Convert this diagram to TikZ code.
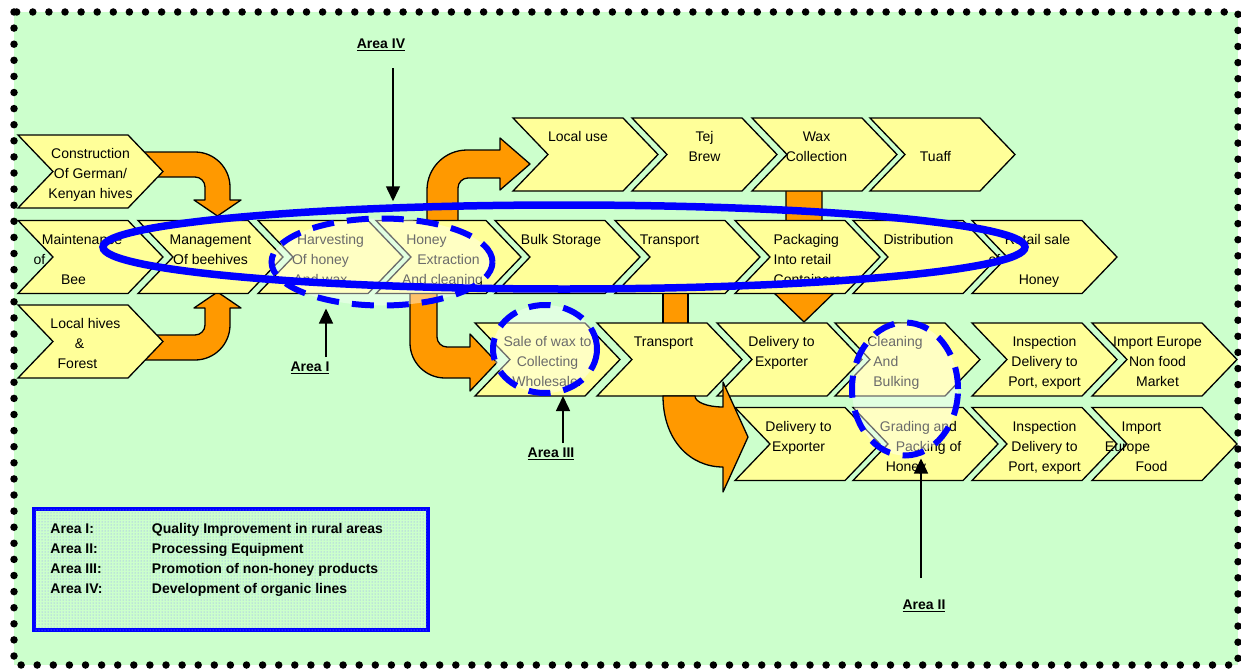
\documentclass[tikz,border=0pt]{standalone}
\usepackage{fontspec}
\setmainfont{Liberation Sans}
\usetikzlibrary{arrows.meta,positioning,shapes.symbols,shapes.geometric,patterns}
\definecolor{bggreen}{HTML}{CCFFCC}
\definecolor{chevyellow}{HTML}{FFFF99}
\definecolor{honeyorange}{HTML}{FF9900}
\definecolor{areablue}{HTML}{0000FF}
\newcommand{\areaunder}[1]{\setbox0=\hbox{#1}\rlap{\rule[-3pt]{\wd0}{1.6pt}}\box0}

\begin{document}
\begin{tikzpicture}[
  x=1pt,y=-1pt,
  chev/.style={
    signal,signal from=west,signal to=east,signal pointer angle=92.4,
    draw,line width=1.3pt,fill=chevyellow,
    minimum width=145pt,minimum height=73pt,inner sep=0pt
  },
  chevtext/.style={
    font=\fontsize{14}{20}\selectfont,align=center,inner sep=0pt,yshift=-3pt
  },
  blockarrow/.style={draw,line width=1.3pt,fill=honeyorange,line join=round},
  areaoval/.style={
    ellipse,draw=areablue,line width=6pt,dash pattern=on 22pt off 13pt,
    fill=white,fill opacity=.42,inner sep=0pt
  },
  arealabel/.style={font=\fontsize{14}{16}\selectfont\bfseries,inner sep=1pt},
  pointer/.style={-{Triangle[width=14pt,length=15pt]},line width=1.5pt}
]
\useasboundingbox (0,0) rectangle (1241,669);

% ---- dotted frame ----
\fill[bggreen] (14,12) rectangle (1238,665);
\draw[line width=7.5pt,dash pattern=on 0pt off 16.1pt,line cap=round] (14,12) rectangle (1238,665);

% ---- orange flow arrows, behind the chevrons ----
\draw[blockarrow] (135,152) -- (195,152) .. controls (214.3,152) and (230,167.7) .. (230,187)
  -- (230,200) -- (241,200) -- (217.5,216) -- (194,200) -- (205,200) -- (205,187)
  .. controls (205,181.5) and (200.5,177) .. (195,177) -- (135,177) -- cycle;
\draw[blockarrow] (135,360) -- (195,360) .. controls (214.3,360) and (230,344.3) .. (230,325)
  -- (230,308) -- (241,308) -- (217.5,292) -- (194,308) -- (205,308) -- (205,325)
  .. controls (205,330.5) and (200.5,335) .. (195,335) -- (135,335) -- cycle;
\draw[blockarrow] (427,235) -- (427,190) .. controls (427,167.9) and (444.9,150) .. (467,150)
  -- (500,150) -- (500,138) -- (530,164) -- (500,190) -- (500,178) -- (468,178)
  .. controls (462.5,178) and (458,182.5) .. (458,188) -- (458,235) -- cycle;
\draw[blockarrow] (410,285) -- (410,343) .. controls (410,362.3) and (425.7,378) .. (445,378)
  -- (470,378) -- (470,391) -- (497,362.5) -- (470,334) -- (470,347) -- (447,347)
  .. controls (441.5,347) and (437,342.5) .. (437,337) -- (437,285) -- cycle;
\draw[blockarrow] (786,185) -- (822,185) -- (822,290) -- (837,290) -- (804,322)
  -- (771,290) -- (786,290) -- cycle;
\draw[blockarrow] (663,285) rectangle (688,330);

% ---- left column ----
\node[chev,label={[chevtext]center:{\strut Construction\\Of German/\\Kenyan hives\strut}}] (constr) at (90.5,171.5) {};
\node[chev,label={[chevtext]center:{\strut Maintenance\hspace*{17pt}\strut\\of\hspace*{102pt}\strut\\Bee\hspace*{34pt}\strut}}] (maint) at (90.5,257) {};
\node[chev,label={[chevtext]center:{\strut Local hives\hspace*{10pt}\strut\\\&\hspace*{22pt}\strut\\Forest\hspace*{26pt}\strut}}] (localh) at (90.5,341.5) {};

% ---- top row ----
\node[chev,label={[chevtext]center:{\strut Local use\hspace*{15pt}\strut\\~\\~\strut}}] (localuse) at (585.5,154.5) {};
\node[chev,label={[chevtext]center:{\strut Tej\\Brew\\~\strut}}] (tej) at (704.5,154.5) {};
\node[chev,label={[chevtext]center:{\strut Wax\hspace*{16pt}\strut\\Collection\hspace*{16pt}\strut\\~\strut}}] (waxc) at (824.5,154.5) {};
\node[chev,label={[chevtext]center:{\strut~\\Tuaff\hspace*{14pt}\strut\\~\strut}}] (tuaff) at (942.5,154.5) {};

% ---- main chain ----
\node[chev,label={[chevtext]center:{\strut Management\\Of beehives\\~\strut}}] (manage) at (210.5,257) {};
\node[chev,label={[chevtext]center:{\strut Harvesting\\Of honey\hspace*{20pt}\strut\\And wax\hspace*{20pt}\strut}}] (harvest) at (330.5,257) {};
\node[chev,label={[chevtext]center:{\strut Honey\hspace*{44pt}\strut\\Extraction\\And cleaning\hspace*{12pt}\strut}}] (honeyx) at (448.5,257) {};
\node[chev,label={[chevtext]center:{\strut Bulk Storage\hspace*{13pt}\strut\\~\\~\strut}}] (bulk) at (567.5,257) {};
\node[chev,label={[chevtext]center:{\strut Transport\hspace*{36pt}\strut\\~\\~\strut}}] (transA) at (687.5,257) {};
\node[chev,label={[chevtext,align=left]center:{\strut Packaging\\Into retail\\Containers\strut}}] (pack) at (807.5,257) {};
\node[chev,label={[chevtext]center:{\strut Distribution\hspace*{14pt}\strut\\~\\~\strut}}] (distr) at (925.5,257) {};
\node[chev,label={[chevtext]center:{\strut Retail sale\hspace*{14pt}\strut\\of\hspace*{100pt}\strut\\Honey\hspace*{11pt}\strut}}] (retail) at (1044.5,257) {};

% ---- export branch ----
\node[chev,label={[chevtext]center:{\strut Sale of wax to\\Collecting\\Wholesaler\strut}}] (salewax) at (547.5,359.5) {};
\node[chev,label={[chevtext]center:{\strut Transport\hspace*{12pt}\strut\\~\\~\strut}}] (transB) at (669.5,359.5) {};
\node[chev,label={[chevtext]center:{\strut Delivery to\hspace*{16pt}\strut\\Exporter\hspace*{16pt}\strut\\~\strut}}] (deliverA) at (789.5,359.5) {};
\node[chev,label={[chevtext,align=left]center:{\strut Cleaning\hspace*{25pt}\strut\\\hspace*{6pt}And\\\hspace*{6pt}Bulking\strut}}] (cleanbulk) at (907.5,359.5) {};
\node[chev,label={[chevtext]center:{\strut Inspection\\Delivery to\\Port, export\strut}}] (inspA) at (1044.5,359.5) {};
\node[chev,label={[chevtext]center:{\strut Import Europe\hspace*{14pt}\strut\\Non food\hspace*{14pt}\strut\\Market\hspace*{14pt}\strut}}] (importA) at (1164.5,359.5) {};

\node[chev,label={[chevtext]center:{\strut Delivery to\hspace*{18pt}\strut\\Exporter\hspace*{18pt}\strut\\~\strut}}] (deliverB) at (807.5,444) {};
\node[chev,label={[chevtext]center:{\strut Grading and\hspace*{14pt}\strut\\\hspace*{6pt}Packing of\\Honey\hspace*{39pt}\strut}}] (grading) at (925.5,444) {};
\node[chev,label={[chevtext]center:{\strut Inspection\\Delivery to\\Port, export\strut}}] (inspB) at (1044.5,444) {};
\node[chev,label={[chevtext]center:{\strut Import\hspace*{46pt}\strut\\Europe\hspace*{74pt}\strut\\Food\hspace*{26pt}\strut}}] (importB) at (1164.5,444) {};

% curved arrow from the lower transport
\draw[blockarrow] (663,396) .. controls (663,440) and (690,467) .. (723,467) -- (723,492)
  -- (748,437) -- (723,382) -- (723,407) .. controls (707,407) and (695,402) .. (695,396) -- cycle;

% ---- focus areas ----
\node[areaoval,minimum width=221pt,minimum height=87pt] (areaI) at (382,262) {};
\node[areaoval,minimum width=104pt,minimum height=88pt] (areaIII) at (545,349) {};
\node[areaoval,minimum width=106pt,minimum height=133pt] (areaII) at (905,389) {};
\node[ellipse,draw=areablue,line width=7.5pt,minimum width=922pt,minimum height=84pt,inner sep=0pt] (areaIV) at (564,247) {};

\node[arealabel] (lblIV) at (381,45) {\areaunder{Area IV}};
\node[arealabel] (lblI) at (310,368) {\areaunder{Area I}};
\node[arealabel] (lblIII) at (551,454) {\areaunder{Area III}};
\node[arealabel] (lblII) at (924,606) {\areaunder{Area II}};
\coordinate (ivfoot) at (393,68);
\coordinate (ifoot) at (326,357);
\coordinate (iiifoot) at (563,443);
\coordinate (iifoot) at (921,578);
\draw[pointer] (ivfoot) -- (ivfoot |- areaIV.north);
\draw[pointer] (ifoot) -- (ifoot |- areaI.south);
\draw[pointer] (iiifoot) -- (iiifoot |- areaIII.south);
\draw[pointer] (iifoot) -- (iifoot |- areaII.south);

% ---- legend ----
\node[draw=areablue,line width=3.5pt,fill=bggreen,
  postaction={pattern=dots,pattern color=areablue!45},
  minimum width=394pt,minimum height=121pt,inner sep=0pt] (legend) at (231,569.5) {};
\node[font=\fontsize{14}{20}\selectfont\bfseries,align=left,inner sep=0pt,
  below right=16pt and 18pt of legend.north west] (legendtxt) {%
  \makebox[101.5pt][l]{Area I:}Quality Improvement in rural areas\\
  \makebox[101.5pt][l]{Area II:}Processing Equipment\\
  \makebox[101.5pt][l]{Area III:}Promotion of non-honey products\\
  \makebox[101.5pt][l]{Area IV:}Development of organic lines};

\end{tikzpicture}
\end{document}
